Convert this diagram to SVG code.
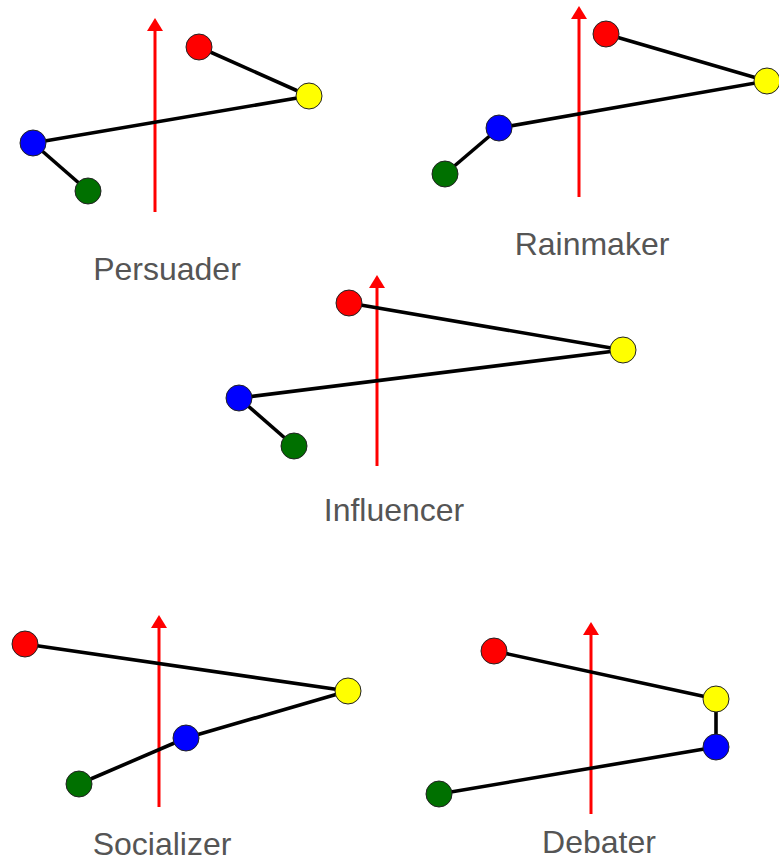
<svg xmlns="http://www.w3.org/2000/svg" width="779" height="862" viewBox="0 0 779 862">
  <style>
    .axis { stroke: #ff0000; stroke-width: 3; fill: none; }
    .link { stroke: #000000; stroke-width: 3.6; fill: none; }
    .dot { stroke: #222222; stroke-width: 1; }
    .red { fill: #ff0000; }
    .yellow { fill: #ffff00; }
    .blue { fill: #0000ff; }
    .green { fill: #007000; }
    .label { font-family: "Liberation Sans", Arial, sans-serif; font-size: 32px; fill: #555555; text-anchor: middle; }
  </style>
  <defs>
    <marker id="head" markerUnits="userSpaceOnUse" markerWidth="14" markerHeight="16" refX="0" refY="8" orient="auto">
      <path d="M0,0 L13,8 L0,16 Z" fill="#ff0000"/>
    </marker>
  </defs>
  <rect width="779" height="862" fill="#ffffff"/>

  <!-- Persuader -->
  <g id="persuader">
    <line class="axis" x1="155" y1="212" x2="155" y2="31" marker-end="url(#head)"/>
    <g class="connectors">
      <line class="link" x1="199" y1="47" x2="309" y2="96"/>
      <line class="link" x1="309" y1="96" x2="33" y2="143"/>
      <line class="link" x1="33" y1="143" x2="88" y2="191"/>
    </g>
    <g id="persuader-red"><circle class="dot red" cx="199" cy="47" r="13"/></g>
    <g id="persuader-yellow"><circle class="dot yellow" cx="309" cy="96" r="13"/></g>
    <g id="persuader-blue"><circle class="dot blue" cx="33" cy="143" r="13"/></g>
    <g id="persuader-green"><circle class="dot green" cx="88" cy="191" r="13"/></g>
    <text class="label" x="167" y="280">Persuader</text>
  </g>

  <!-- Rainmaker -->
  <g id="rainmaker">
    <line class="axis" x1="579" y1="197" x2="579" y2="19" marker-end="url(#head)"/>
    <g class="connectors">
      <line class="link" x1="606" y1="34" x2="767" y2="81"/>
      <line class="link" x1="767" y1="81" x2="499" y2="128"/>
      <line class="link" x1="499" y1="128" x2="445" y2="174"/>
    </g>
    <g id="rainmaker-red"><circle class="dot red" cx="606" cy="34" r="13"/></g>
    <g id="rainmaker-yellow"><circle class="dot yellow" cx="767" cy="81" r="13"/></g>
    <g id="rainmaker-blue"><circle class="dot blue" cx="499" cy="128" r="13"/></g>
    <g id="rainmaker-green"><circle class="dot green" cx="445" cy="174" r="13"/></g>
    <text class="label" x="592" y="255">Rainmaker</text>
  </g>

  <!-- Influencer -->
  <g id="influencer">
    <line class="axis" x1="377" y1="466" x2="377" y2="288" marker-end="url(#head)"/>
    <g class="connectors">
      <line class="link" x1="349" y1="303" x2="623" y2="350"/>
      <line class="link" x1="623" y1="350" x2="239" y2="398"/>
      <line class="link" x1="239" y1="398" x2="294" y2="446"/>
    </g>
    <g id="influencer-red"><circle class="dot red" cx="349" cy="303" r="13"/></g>
    <g id="influencer-yellow"><circle class="dot yellow" cx="623" cy="350" r="13"/></g>
    <g id="influencer-blue"><circle class="dot blue" cx="239" cy="398" r="13"/></g>
    <g id="influencer-green"><circle class="dot green" cx="294" cy="446" r="13"/></g>
    <text class="label" x="394" y="521">Influencer</text>
  </g>

  <!-- Socializer -->
  <g id="socializer">
    <line class="axis" x1="159" y1="807" x2="159" y2="628" marker-end="url(#head)"/>
    <g class="connectors">
      <line class="link" x1="25" y1="644" x2="348" y2="691"/>
      <line class="link" x1="348" y1="691" x2="186" y2="738"/>
      <line class="link" x1="186" y1="738" x2="79" y2="784"/>
    </g>
    <g id="socializer-red"><circle class="dot red" cx="25" cy="644" r="13"/></g>
    <g id="socializer-yellow"><circle class="dot yellow" cx="348" cy="691" r="13"/></g>
    <g id="socializer-blue"><circle class="dot blue" cx="186" cy="738" r="13"/></g>
    <g id="socializer-green"><circle class="dot green" cx="79" cy="784" r="13"/></g>
    <text class="label" x="162" y="855">Socializer</text>
  </g>

  <!-- Debater -->
  <g id="debater">
    <line class="axis" x1="591" y1="814" x2="591" y2="635" marker-end="url(#head)"/>
    <g class="connectors">
      <line class="link" x1="494" y1="651" x2="716" y2="699"/>
      <line class="link" x1="716" y1="699" x2="716" y2="747"/>
      <line class="link" x1="716" y1="747" x2="439" y2="794"/>
    </g>
    <g id="debater-red"><circle class="dot red" cx="494" cy="651" r="13"/></g>
    <g id="debater-yellow"><circle class="dot yellow" cx="716" cy="699" r="13"/></g>
    <g id="debater-blue"><circle class="dot blue" cx="716" cy="747" r="13"/></g>
    <g id="debater-green"><circle class="dot green" cx="439" cy="794" r="13"/></g>
    <text class="label" x="599" y="853">Debater</text>
  </g>
</svg>
